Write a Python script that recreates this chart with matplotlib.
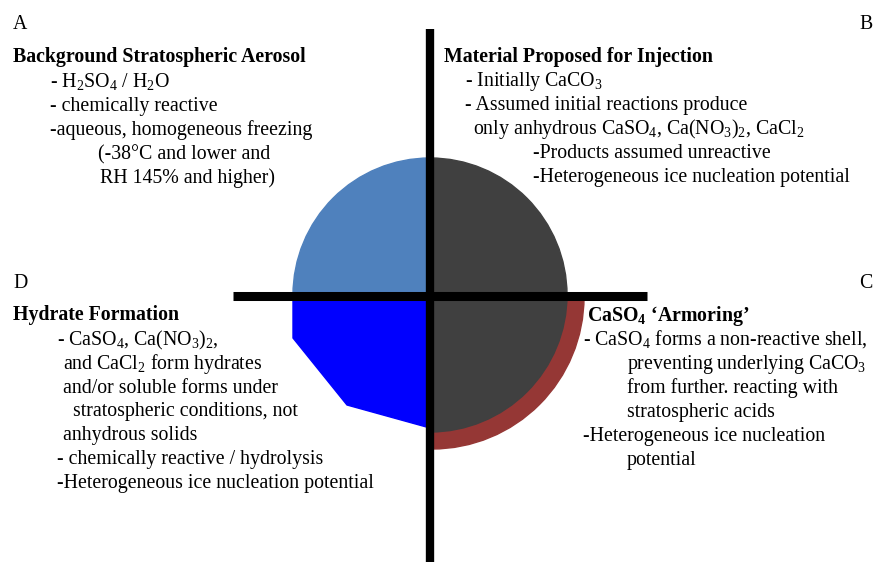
import matplotlib

matplotlib.use("Agg")
import matplotlib.pyplot as plt
from matplotlib.patches import Polygon, Wedge

plt.rcParams["font.family"] = ["Liberation Serif", "DejaVu Serif"]
plt.rcParams["mathtext.fontset"] = "custom"
plt.rcParams["mathtext.rm"] = "Liberation Serif"
plt.rcParams["mathtext.it"] = "Liberation Serif:italic"
plt.rcParams["mathtext.bf"] = "Liberation Serif:bold"

# quadrant letters
corner_labels = ["A", "B", "C", "D"]

# text of each quadrant: heading, then body lines
titles = [
    "Background Stratospheric Aerosol",
    "Material Proposed for Injection",
    r"CaSO$_\mathbf{4}$ ‘Armoring’",
    "Hydrate Formation",
]
body_a = [
    r"- H$_2$SO$_4$ / H$_2$O",
    "- chemically reactive",
    "-aqueous, homogeneous freezing",
    "(-38°C and lower and",
    "RH 145% and higher)",
]
body_b = [
    r"- Initially CaCO$_3$",
    "- Assumed initial reactions produce",
    r"only anhydrous CaSO$_4$, Ca(NO$_3$)$_2$, CaCl$_2$",
    "-Products assumed unreactive",
    "-Heterogeneous ice nucleation potential",
]
body_c = [
    r"- CaSO$_4$ forms a non-reactive shell,",
    r"preventing underlying CaCO$_3$",
    "from further. reacting with",
    "stratospheric acids",
    "-Heterogeneous ice nucleation",
    "potential",
]
body_d = [
    r"- CaSO$_4$, Ca(NO$_3$)$_2$,",
    r"and CaCl$_2$ form hydrates",
    "and/or soluble forms under",
    "stratospheric conditions, not",
    "anhydrous solids",
    "- chemically reactive / hydrolysis",
    "-Heterogeneous ice nucleation potential",
]

W, H = 875, 562
fig = plt.figure(figsize=(W / 100, H / 100), dpi=100)
ax = fig.add_axes([0, 0, 1, 1])
ax.set_xlim(0, W)
ax.set_ylim(H, 0)
ax.axis("off")

cx, cy, r = 430, 295, 137

# shadow-like ring under the lower right quarter
ax.add_patch(Wedge((cx + 2, cy + 2), 152, 0, 90, width=20, color="#953735", zorder=1))
ax.add_patch(Wedge((cx, cy), r, 180, 270, color="#4F81BD", zorder=2))
ax.add_patch(Wedge((cx, cy), r, -90, 90, color="#404040", zorder=2))
ax.add_patch(Polygon([(cx, cy), (293, cy), (293, 338), (347, 405), (cx, 428)],
                     closed=True, color="#0000FF", zorder=2))

ax.plot([cx, cx], [29, H], color="black", lw=6.0, solid_capstyle="butt", zorder=3)
ax.plot([233, 647], [295.5, 295.5], color="black", lw=6.5, solid_capstyle="butt", zorder=3)

fs = 14.3
for lab, (x, y, ha) in zip(corner_labels, [(13, 29, "left"), (873, 29, "right"),
                                           (873, 288, "right"), (13, 288, "left")]):
    ax.text(x, y, lab, fontsize=fs, ha=ha, va="baseline")

title_pos = [(13, 62), (444, 62), (587, 321), (13, 320)]
for t, (x, y) in zip(titles, title_pos):
    ax.text(x, y, t, fontsize=fs, fontweight="bold", ha="left", va="baseline")


def block(lines, xs, y0, step=24):
    for i, (s, x) in enumerate(zip(lines, xs)):
        ax.text(x, y0 + i * step, s, fontsize=fs, ha="left", va="baseline")


block(body_a, [50, 50, 50, 98, 100], 87)
block(body_b, [465, 465, 473, 533, 533], 86)
block(body_c, [583, 627, 627, 627, 583, 627], 345)
block(body_d, [57, 63, 63, 73, 63, 57, 57], 345, step=23.8)

fig.savefig("out.png", dpi=100)
